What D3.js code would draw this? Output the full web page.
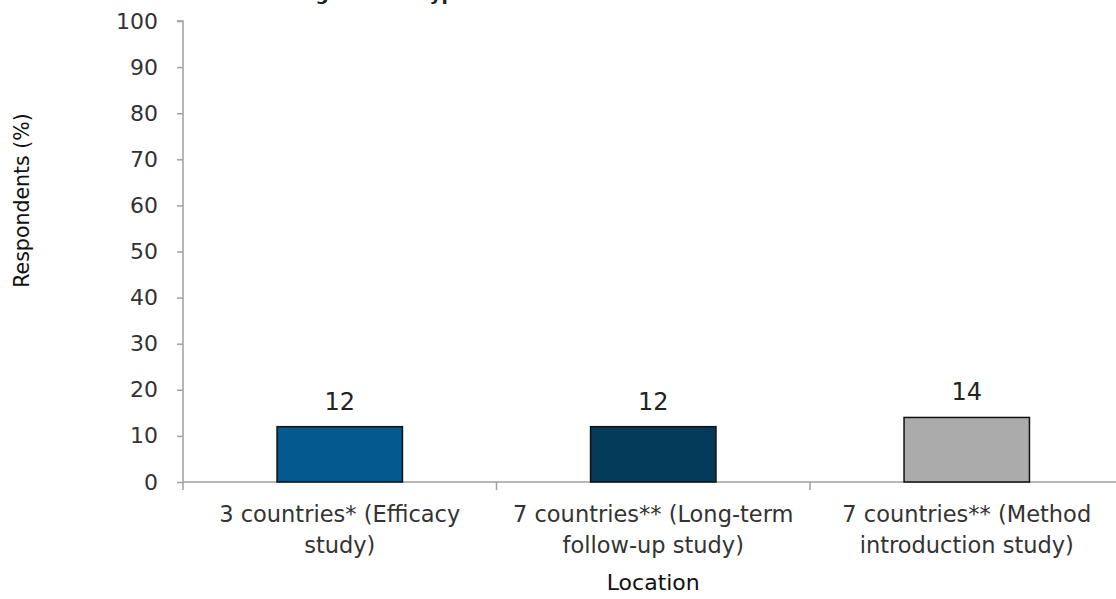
<!DOCTYPE html>
<html>
<head>
<meta charset="utf-8">
<script src="https://cdn.jsdelivr.net/npm/d3@7"></script>
<style>
  html, body { margin: 0; padding: 0; background: #fff; }
  svg { display: block; font-family: "DejaVu Sans", sans-serif; }
</style>
</head>
<body>
<svg id="chart" width="1116" height="599"></svg>
<script>
// Share of respondents by study location
const categories = [
  ["3 countries* (Efficacy", "study)"],
  ["7 countries** (Long-term", "follow-up study)"],
  ["7 countries** (Method", "introduction study)"]
];
const values = [12, 12, 14];
const barColors = ["#045a8d", "#053b5a", "#ababab"];
const yTicks = [0, 10, 20, 30, 40, 50, 60, 70, 80, 90, 100];
const titleText = "Knowledge of this type of method";
const yTitle = "Respondents (%)";
const xTitle = "Location";

const svg = d3.select("#chart");
const margin = { left: 183, top: 21, bottom: 117 };
const plotRight = 1123.5;
const height = 599;

const x = d3.scaleBand()
  .domain(d3.range(categories.length))
  .range([margin.left, plotRight])
  .paddingInner(0.6)
  .paddingOuter(0.3);

const y = d3.scaleLinear()
  .domain([0, 100])
  .range([height - margin.bottom, margin.top]);

const axisColor = "#a0a0a0";
const textColor = "#333";

// chart title, running off the top edge
svg.append("text")
  .attr("x", 226)
  .attr("y", 0)
  .attr("font-size", 18.5)
  .attr("font-weight", "bold")
  .attr("fill", "#222")
  .text(titleText);

// y axis
const yAxis = svg.append("g")
  .attr("transform", `translate(${margin.left},0)`)
  .call(d3.axisLeft(y).tickValues(yTicks).tickSize(6).tickPadding(19));
yAxis.select(".domain").attr("stroke", axisColor).attr("stroke-width", 1.5)
  .attr("d", `M-6,${y(100)}H0V${y(0) + 8}`);
yAxis.selectAll(".tick line").attr("stroke", axisColor).attr("stroke-width", 1.5);
yAxis.selectAll(".tick text")
  .attr("font-size", 22)
  .attr("fill", textColor)
  .attr("font-family", "DejaVu Sans, sans-serif");

// x axis line with boundary ticks between categories
const xAxisG = svg.append("g");
xAxisG.append("line")
  .attr("x1", margin.left).attr("x2", 1116)
  .attr("y1", y(0)).attr("y2", y(0))
  .attr("stroke", axisColor).attr("stroke-width", 1.5);
const step = x.step();
d3.range(1, categories.length).forEach(i => {
  const bx = x(i) - step * x.paddingInner() / 2;
  xAxisG.append("line")
    .attr("x1", bx).attr("x2", bx)
    .attr("y1", y(0)).attr("y2", y(0) + 8)
    .attr("stroke", axisColor).attr("stroke-width", 1.5);
});

// bars
svg.append("g").selectAll("rect")
  .data(values)
  .join("rect")
  .attr("x", (d, i) => x(i))
  .attr("width", x.bandwidth())
  .attr("y", d => y(d))
  .attr("height", d => y(0) - y(d))
  .attr("fill", (d, i) => barColors[i])
  .attr("stroke", "#111")
  .attr("stroke-width", 1.5);

// value labels
svg.append("g").selectAll("text")
  .data(values)
  .join("text")
  .attr("x", (d, i) => x(i) + x.bandwidth() / 2)
  .attr("y", d => y(d) - 17)
  .attr("text-anchor", "middle")
  .attr("font-size", 24)
  .attr("fill", "#222")
  .text(d => d);

// category labels
const catG = svg.append("g");
categories.forEach((lines, i) => {
  const cx = x(i) + x.bandwidth() / 2;
  const t = catG.append("text")
    .attr("x", cx)
    .attr("y", 522)
    .attr("text-anchor", "middle")
    .attr("font-size", 22.5)
    .attr("fill", textColor);
  lines.forEach((ln, j) => {
    t.append("tspan")
      .attr("x", cx)
      .attr("dy", j === 0 ? 0 : 31)
      .text(ln);
  });
});

// axis titles
svg.append("text")
  .attr("x", x(1) + x.bandwidth() / 2)
  .attr("y", 590)
  .attr("text-anchor", "middle")
  .attr("font-size", 22)
  .attr("fill", "#111")
  .text(xTitle);

svg.append("text")
  .attr("transform", `translate(29,${(y(0) + y(100)) / 2 - 51}) rotate(-90)`)
  .attr("text-anchor", "middle")
  .attr("font-size", 20.5)
  .attr("fill", "#111")
  .text(yTitle);
</script>
</body>
</html>
